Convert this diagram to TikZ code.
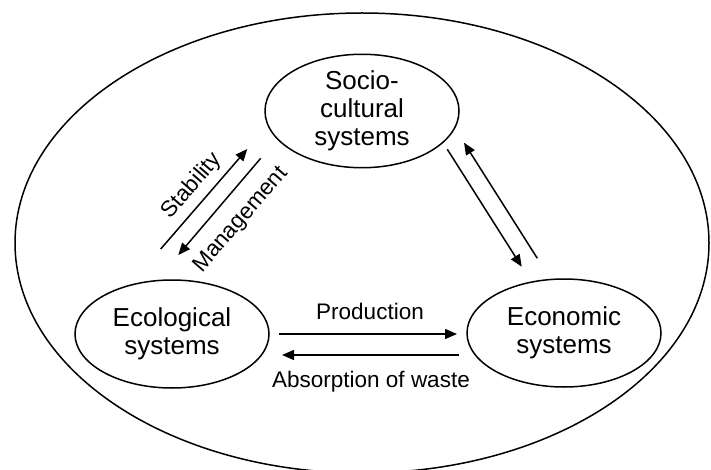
\documentclass[tikz,border=0pt]{standalone}
\usepackage{fontspec}
\setmainfont{Liberation Sans}
\usetikzlibrary{shapes.geometric,arrows.meta}
\begin{document}
\begin{tikzpicture}[x=1pt,y=-1pt,
  sysbox/.style={ellipse,draw,line width=1.5pt,minimum width=194pt,minimum height=108pt,inner sep=0pt,align=center,font=\fontsize{26}{28}\selectfont},
  lbl/.style={font=\fontsize{22.5}{26}\selectfont,inner sep=0pt},
  arr/.style={line width=1.5pt,-{Triangle[length=12pt,width=10pt]}}]
\useasboundingbox (0,0) rectangle (711,470);
\draw[line width=1.5pt] (362,243) ellipse [x radius=347, y radius=230];
\node[sysbox] (soc) at (362,111) {Socio-\\cultural\\systems};
\node[sysbox] (eco) at (172,334) {Ecological\\systems};
\node[sysbox] (econ) at (564,333) {Economic\\systems};
\coordinate (st1) at (160.7,249);
\coordinate (st2) at (247.3,149);
\coordinate (mg1) at (260.7,158.3);
\coordinate (mg2) at (178.3,255);
\coordinate (ra1) at (447.3,149.3);
\coordinate (ra2) at (521.7,266.7);
\coordinate (rb1) at (537.3,258.3);
\coordinate (rb2) at (464,142.7);
\coordinate (pr1) at (279,334);
\coordinate (pr2) at (457,334);
\coordinate (ab1) at (459,355);
\coordinate (ab2) at (282,355);
\draw[arr] (st1) -- (st2);
\draw[arr] (mg1) -- (mg2);
\draw[arr] (ra1) -- (ra2);
\draw[arr] (rb1) -- (rb2);
\draw[arr] (pr1) -- (pr2);
\draw[arr] (ab1) -- (ab2);
\node[lbl] (lprod) at (370,311) {Production};
\node[lbl] (labs) at (371,382) {Absorption of waste};
\node[lbl,rotate=49] (lstab) at (192,186) {Stability};
\node[lbl,rotate=49] (lman) at (241,220) {Management};
\end{tikzpicture}
\end{document}
